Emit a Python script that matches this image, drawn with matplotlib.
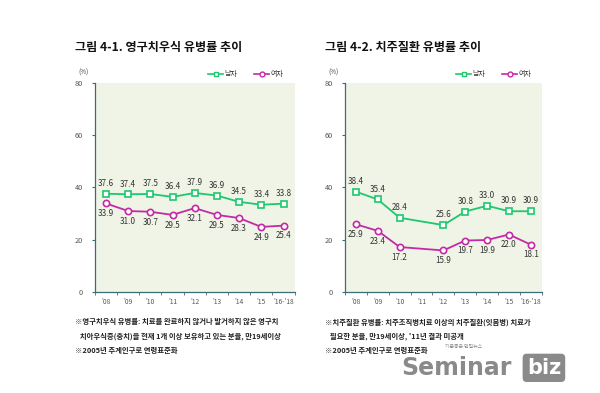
import numpy as np
import matplotlib
matplotlib.use('Agg')
import matplotlib.pyplot as plt

plt.rcParams['font.family'] = ['Noto Sans CJK KR', 'DejaVu Sans']

# data
years = ["'08", "'09", "'10", "'11", "'12", "'13", "'14", "'15", "'16-'18"]
caries_men = [37.6, 37.4, 37.5, 36.4, 37.9, 36.9, 34.5, 33.4, 33.8]
caries_women = [33.9, 31.0, 30.7, 29.5, 32.1, 29.5, 28.3, 24.9, 25.4]
perio_men = [38.4, 35.4, 28.4, np.nan, 25.6, 30.8, 33.0, 30.9, 30.9]
perio_women = [25.9, 23.4, 17.2, np.nan, 15.9, 19.7, 19.9, 22.0, 18.1]

titles = ['그림 4-1. 영구치우식 유병률 추이', '그림 4-2. 치주질환 유병률 추이']
notes = [['※영구치우식 유병률: 치료를 완료하지 않거나 발거하지 않은 영구치',
          '   치아우식증(충치)을 현재 1개 이상 보유하고 있는 분율, 만19세이상',
          '※2005년 추계인구로 연령표준화'],
         ['※치주질환 유병률: 치주조직병치료 이상의 치주질환(잇몸병) 치료가',
          '   필요한 분율, 만19세이상, \'11년 결과 미공개',
          '※2005년 추계인구로 연령표준화']]

green = '#1dc86e'
magenta = '#c42aa6'
axis_col = '#3d6b78'

fig = plt.figure(figsize=(6, 3.93), dpi=100)

# (axes left, width, men, women, title x, legend x)
panels = [(0.158, 0.333, caries_men, caries_women, 0.125, 0.347),
          (0.575, 0.328, perio_men, perio_women, 0.542, 0.760)]

for i, (x0, w, men, women, tx, lx) in enumerate(panels):
    ax = fig.add_axes([x0, 0.257, w, 0.532])
    ax.set_facecolor('#eff4e6')
    x = np.arange(len(years))
    m = np.array(men)
    f = np.array(women)
    ok = ~np.isnan(m)
    ax.plot(x[ok], m[ok], color=green, lw=1.3, marker='s', ms=4.5,
            mfc='white', mec=green, mew=1.2, zorder=3)
    ok = ~np.isnan(f)
    ax.plot(x[ok], f[ok], color=magenta, lw=1.3, marker='o', ms=4.5,
            mfc='white', mec=magenta, mew=1.2, zorder=3)
    for xi, v in zip(x, men):
        if not np.isnan(v):
            ax.text(xi, v + 2.2, f'{v:.1f}', ha='center', va='bottom',
                    fontsize=5.8, color='#333333')
    for xi, v in zip(x, women):
        if not np.isnan(v):
            ax.text(xi, v - 2.2, f'{v:.1f}', ha='center', va='top',
                    fontsize=5.8, color='#333333')
    ax.set_xlim(-0.5, len(years) - 0.5)
    ax.set_ylim(0, 80)
    ax.set_yticks([0, 20, 40, 60, 80])
    ax.set_xticks(x)
    ax.set_xticklabels(years)
    ax.set_xticks(np.arange(-0.5, len(years)), minor=True)
    ax.tick_params(axis='x', which='major', length=0, labelsize=4.8,
                   labelcolor='#555555', pad=4)
    ax.tick_params(axis='x', which='minor', length=2.5, color=axis_col,
                   direction='out')
    ax.tick_params(axis='y', length=2.5, color=axis_col, labelsize=5.3,
                   labelcolor='#555555', pad=6)
    for s in ['top', 'right']:
        ax.spines[s].set_visible(False)
    for s in ['left', 'bottom']:
        ax.spines[s].set_color(axis_col)
        ax.spines[s].set_linewidth(0.9)

    fig.text(tx, 0.878, titles[i], fontsize=8.7, fontweight='bold',
             color='#111111', va='center')
    fig.text(x0 - 0.028, 0.815, '(%)', fontsize=4.5, color='#444444',
             va='center')
    # legend
    ly = 0.812
    for k, (col, mk, lab) in enumerate([(green, 's', '남자'),
                                         (magenta, 'o', '여자')]):
        sx = lx + k * 0.077
        fig.add_artist(plt.Line2D([sx, sx + 0.025], [ly, ly], color=col,
                                  lw=1.2, transform=fig.transFigure))
        fig.add_artist(plt.Line2D([sx + 0.0125], [ly], color=col, marker=mk,
                                  ms=3.5, mfc='white', mec=col, mew=1,
                                  transform=fig.transFigure))
        fig.text(sx + 0.027, ly, lab, fontsize=5, va='center', color='#333333')

    for j, line in enumerate(notes[i]):
        fig.text(tx, 0.181 - j * 0.036, line, fontsize=5.3, fontweight='bold',
                 color='#222222', va='center')

# watermark
fig.text(0.668, 0.064, 'Seminar', fontsize=17, fontweight='bold',
         color='#8a8a8a', va='center', family=['DejaVu Sans'])
fig.text(0.878, 0.064, 'biz', fontsize=15, fontweight='bold', color='white',
         va='center', family=['DejaVu Sans'],
         bbox=dict(boxstyle='round,pad=0.2', fc='#8a8a8a', ec='none'))
fig.text(0.742, 0.118, '기분좋은 만필뉴스', fontsize=3.5, color='#888888',
         va='center')

fig.savefig('out.png', dpi=100)
